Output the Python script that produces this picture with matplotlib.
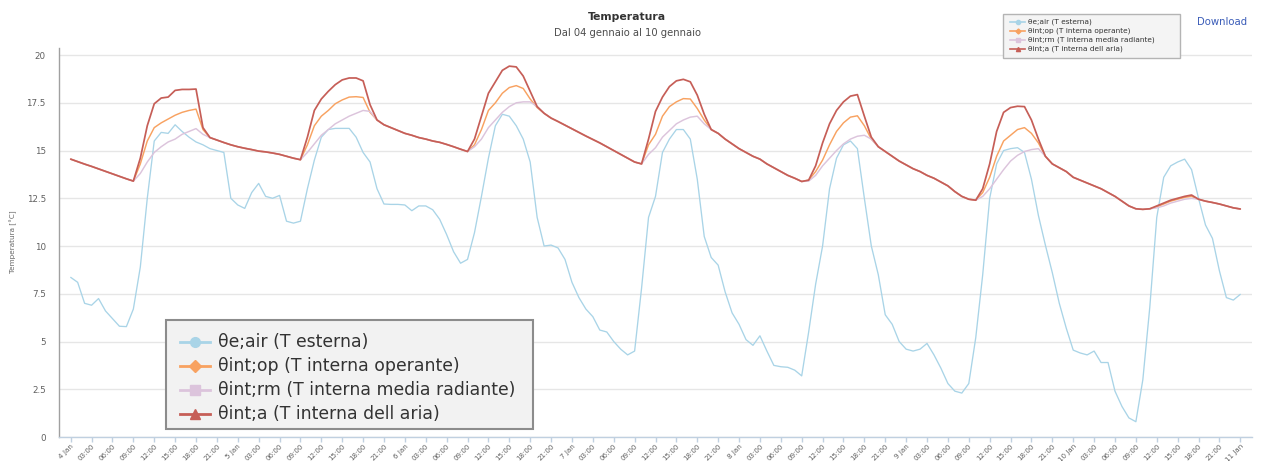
import numpy as np
import matplotlib
matplotlib.use('Agg')
import matplotlib.pyplot as plt
from matplotlib.lines import Line2D
from matplotlib.patches import Rectangle
import pandas as pd

# ---------------- data (hourly, 4 Jan 00:00 -> 11 Jan 00:00) ----------------
start = pd.Timestamp('2015-01-04 00:00')

theta_e_air = [
    8.36, 8.1, 7.0, 6.9, 7.25, 6.6, 6.2, 5.8, 5.78, 6.7,
    8.9, 12.5, 15.5, 15.95, 15.9, 16.35, 16.0, 15.7, 15.45, 15.3,
    15.1, 15.0, 14.9, 12.5, 12.15, 11.97, 12.8, 13.28, 12.6, 12.5,
    12.65, 11.3, 11.2, 11.3, 13.0, 14.5, 15.7, 16.1, 16.16, 16.16,
    16.16, 15.7, 14.9, 14.4, 13.0, 12.2, 12.18, 12.18, 12.15, 11.85,
    12.1, 12.1, 11.9, 11.4, 10.6, 9.7, 9.1, 9.3, 10.7, 12.6,
    14.6, 16.3, 16.9, 16.8, 16.3, 15.6, 14.4, 11.5, 10.0, 10.05,
    9.9, 9.3, 8.1, 7.3, 6.7, 6.3, 5.6, 5.5, 5.0, 4.6,
    4.3, 4.5, 7.8, 11.5, 12.6, 14.9, 15.6, 16.1, 16.1, 15.6,
    13.5, 10.5, 9.4, 9.0, 7.6, 6.5, 5.9, 5.1, 4.8, 5.3,
    4.5, 3.75, 3.68, 3.65, 3.5, 3.2, 5.5, 8.0, 10.0, 13.0,
    14.6, 15.3, 15.5, 15.1, 12.5, 10.0, 8.5, 6.4, 5.9, 5.0,
    4.6, 4.5, 4.6, 4.9, 4.3, 3.6, 2.8, 2.4, 2.3, 2.8,
    5.2, 8.5, 12.5, 14.3, 15.0, 15.1, 15.15, 14.9, 13.5, 11.6,
    10.05, 8.6, 7.0, 5.7, 4.55, 4.4, 4.3, 4.5, 3.9, 3.9,
    2.4, 1.6, 1.0, 0.8, 3.0, 6.8, 11.5, 13.6, 14.2, 14.4,
    14.55, 14.0, 12.5, 11.1, 10.4, 8.7, 7.3, 7.17, 7.47,
]

theta_int_op = [
    14.55, 14.42, 14.29, 14.17, 14.04, 13.91, 13.78, 13.65, 13.52, 13.4,
    14.3, 15.5, 16.2, 16.45, 16.65, 16.85, 17.0, 17.1, 17.17, 16.1,
    15.68, 15.55, 15.42, 15.3, 15.2, 15.12, 15.05, 14.97, 14.93, 14.87,
    14.8, 14.7, 14.6, 14.52, 15.3, 16.3, 16.8, 17.1, 17.45, 17.65,
    17.8, 17.82, 17.78, 17.0, 16.6, 16.35, 16.2, 16.05, 15.9, 15.8,
    15.68, 15.6, 15.5, 15.43, 15.32, 15.2, 15.07, 14.95, 15.3, 16.1,
    17.1, 17.5, 18.0, 18.3, 18.4, 18.25, 17.7, 17.25, 16.95, 16.7,
    16.52, 16.33, 16.14, 15.95, 15.76, 15.58, 15.4, 15.2, 15.0, 14.8,
    14.6, 14.4, 14.3, 15.3, 15.85, 16.8, 17.3, 17.55, 17.72, 17.7,
    17.2, 16.6, 16.1, 15.9, 15.6, 15.35, 15.1, 14.9, 14.7, 14.55,
    14.3, 14.1, 13.9, 13.7, 13.55, 13.38, 13.45, 13.9, 14.5, 15.3,
    16.0, 16.45, 16.75, 16.82, 16.3, 15.6, 15.2, 14.95, 14.7, 14.45,
    14.25, 14.05, 13.9, 13.7, 13.55, 13.35, 13.15, 12.85, 12.6, 12.45,
    12.4, 12.8, 13.6, 14.7, 15.5, 15.8, 16.1, 16.2, 15.9, 15.4,
    14.7, 14.3, 14.1, 13.9, 13.6, 13.45, 13.3, 13.15, 13.0, 12.8,
    12.6, 12.35, 12.1, 11.95, 11.92, 11.95, 12.05, 12.2, 12.35, 12.45,
    12.55, 12.6, 12.45, 12.35, 12.28, 12.2, 12.1, 12.0, 11.94,
]

theta_int_rm = [
    14.55, 14.42, 14.29, 14.17, 14.04, 13.91, 13.78, 13.65, 13.52, 13.4,
    13.8, 14.4, 14.9, 15.2, 15.45, 15.6, 15.85, 16.0, 16.15, 15.85,
    15.68, 15.55, 15.42, 15.3, 15.2, 15.12, 15.05, 14.97, 14.93, 14.87,
    14.8, 14.7, 14.6, 14.52, 14.9, 15.35, 15.8, 16.1, 16.4, 16.6,
    16.8, 16.95, 17.1, 17.05, 16.6, 16.35, 16.2, 16.05, 15.9, 15.8,
    15.68, 15.6, 15.5, 15.43, 15.32, 15.2, 15.07, 14.95, 15.2, 15.6,
    16.2, 16.6, 17.0, 17.3, 17.5, 17.55, 17.55, 17.3, 16.95, 16.7,
    16.52, 16.33, 16.14, 15.95, 15.76, 15.58, 15.4, 15.2, 15.0, 14.8,
    14.6, 14.4, 14.3, 14.8, 15.15, 15.7, 16.05, 16.4, 16.6, 16.75,
    16.8, 16.4, 16.1, 15.9, 15.6, 15.35, 15.1, 14.9, 14.7, 14.55,
    14.3, 14.1, 13.9, 13.7, 13.55, 13.38, 13.4, 13.7, 14.2, 14.6,
    15.0, 15.35, 15.6, 15.75, 15.8, 15.6, 15.2, 14.95, 14.7, 14.45,
    14.25, 14.05, 13.9, 13.7, 13.55, 13.35, 13.15, 12.85, 12.6, 12.45,
    12.4, 12.6, 13.0, 13.5, 14.0, 14.45, 14.75, 14.95, 15.05, 15.1,
    14.7, 14.3, 14.1, 13.9, 13.6, 13.45, 13.3, 13.15, 13.0, 12.8,
    12.6, 12.35, 12.1, 11.95, 11.92, 11.95, 12.0, 12.1, 12.25, 12.35,
    12.45, 12.5, 12.45, 12.35, 12.28, 12.2, 12.1, 12.0, 11.94,
]

theta_int_a = [
    14.55, 14.42, 14.29, 14.17, 14.04, 13.91, 13.78, 13.65, 13.52, 13.4,
    14.6, 16.3, 17.45, 17.75, 17.8, 18.15, 18.2, 18.2, 18.22, 16.2,
    15.68, 15.55, 15.42, 15.3, 15.2, 15.12, 15.05, 14.97, 14.93, 14.87,
    14.8, 14.7, 14.6, 14.52, 15.7, 17.1, 17.7, 18.1, 18.45, 18.7,
    18.8, 18.8, 18.65, 17.4, 16.6, 16.35, 16.2, 16.05, 15.9, 15.8,
    15.68, 15.6, 15.5, 15.43, 15.32, 15.2, 15.07, 14.95, 15.6, 16.8,
    18.0, 18.6, 19.2, 19.42, 19.38, 18.9, 18.1, 17.3, 16.95, 16.7,
    16.52, 16.33, 16.14, 15.95, 15.76, 15.58, 15.4, 15.2, 15.0, 14.8,
    14.6, 14.4, 14.3, 15.6, 17.05, 17.8, 18.35, 18.65, 18.73, 18.6,
    17.9, 16.9, 16.1, 15.9, 15.6, 15.35, 15.1, 14.9, 14.7, 14.55,
    14.3, 14.1, 13.9, 13.7, 13.55, 13.38, 13.45, 14.2, 15.4, 16.4,
    17.1, 17.55, 17.85, 17.93, 16.8, 15.7, 15.2, 14.95, 14.7, 14.45,
    14.25, 14.05, 13.9, 13.7, 13.55, 13.35, 13.15, 12.85, 12.6, 12.45,
    12.4, 13.0, 14.3, 16.0, 17.0, 17.25, 17.32, 17.3, 16.6, 15.6,
    14.7, 14.3, 14.1, 13.9, 13.6, 13.45, 13.3, 13.15, 13.0, 12.8,
    12.6, 12.35, 12.1, 11.95, 11.92, 11.95, 12.1, 12.25, 12.4, 12.5,
    12.6, 12.67, 12.45, 12.35, 12.28, 12.2, 12.1, 12.0, 11.94,
]

series_labels = [
    'θe;air (T esterna)',
    'θint;op (T interna operante)',
    'θint;rm (T interna media radiante)',
    'θint;a (T interna dell aria)',
]
series_colors = ['#a9d4e7', '#f8a261', '#dcc4dc', '#c65e57']
series_markers = ['o', 'D', 's', '^']

title = 'Temperatura'
subtitle = 'Dal 04 gennaio al 10 gennaio'
y_label = 'Temperatura [°C]'
y_ticks = [0, 2.5, 5, 7.5, 10, 12.5, 15, 17.5, 20]
y_tick_labels = ['0', '2.5', '5', '7.5', '10', '12.5', '15', '17.5', '20']

times = pd.date_range(start, periods=len(theta_e_air), freq='h')
hours = np.asarray((times - start) / pd.Timedelta(hours=1), dtype=float)
tick_times = pd.date_range(start, times[-1], freq='3h')
tick_hours = np.asarray((tick_times - start) / pd.Timedelta(hours=1), dtype=float)
tick_labels = [f"{t.day} Jan" if t.hour == 0 else t.strftime('%H:%M') for t in tick_times]

# ---------------- figure ----------------
W, H = 1266, 461
fig = plt.figure(figsize=(W / 100, H / 100), dpi=100)
fig.patch.set_facecolor('white')

def fx(px):
    return px / W

def fy(py):
    return 1 - py / H

ax = fig.add_axes([fx(59), fy(437), fx(1252) - fx(59), fy(48) - fy(437)])

all_series = [theta_e_air, theta_int_op, theta_int_rm, theta_int_a]
widths = [0.95, 1.05, 1.05, 1.25]
for vals, col, lw in zip(all_series, series_colors, widths):
    ax.plot(hours, vals, color=col, lw=lw, solid_joinstyle='round', solid_capstyle='round')

span = hours[-1] - hours[0]
ax.set_xlim(hours[0] - 0.01 * span, hours[-1] + 0.01 * span)
ax.set_ylim(0, 20.37)

ax.set_yticks(y_ticks)
ax.set_yticklabels(y_tick_labels)
ax.tick_params(axis='y', length=0, pad=9.5, labelsize=6.3, labelcolor='#606060')
ax.yaxis.grid(True, color='#e6e6e6', lw=1.0)
ax.set_axisbelow(True)

ax.set_xticks(tick_hours)
ax.set_xticklabels(tick_labels, rotation=45, ha='right', rotation_mode='anchor')
ax.tick_params(axis='x', length=3.5, width=1, color='#c0d0e0', pad=0.8,
               labelsize=5.1, labelcolor='#606060')

for s in ['top', 'right']:
    ax.spines[s].set_visible(False)
ax.spines['left'].set_color('#a0a0a0')
ax.spines['left'].set_linewidth(1.0)
ax.spines['bottom'].set_color('#c0d0e0')
ax.spines['bottom'].set_linewidth(1.0)

fig.text(fx(13), fy(242), y_label, rotation=90, fontsize=5.2, color='#666666',
         ha='center', va='center')
fig.text(fx(627), fy(17), title, fontsize=7.8, fontweight='bold', color='#333333',
         ha='center', va='center')
fig.text(fx(627), fy(33), subtitle, fontsize=7.2, color='#4d4d4d',
         ha='center', va='center')

# ---------------- legends (drawn manually) ----------------
def draw_legend(box, ys, hx0, hx1, tx, fs, lw, ms, ec, fc, blw):
    x0, y0, x1, y1 = box
    fig.patches.append(Rectangle((fx(x0), fy(y1)), fx(x1) - fx(x0), fy(y0) - fy(y1),
                                 transform=fig.transFigure, facecolor=fc,
                                 edgecolor=ec, lw=blw, zorder=5))
    for y, lab, col, mk in zip(ys, series_labels, series_colors, series_markers):
        fig.lines.append(Line2D([fx(hx0), fx(hx1)], [fy(y), fy(y)],
                                transform=fig.transFigure, color=col, lw=lw, zorder=6))
        msz = ms * (0.85 if mk == 'D' else 1.0)
        fig.lines.append(Line2D([fx((hx0 + hx1) / 2)], [fy(y)], transform=fig.transFigure,
                                marker=mk, markersize=msz, color=col, markeredgecolor=col,
                                lw=0, zorder=7))
        fig.text(fx(tx), fy(y), lab, fontsize=fs, color='#333333', ha='left',
                 va='center', zorder=8)

draw_legend((166, 320, 533, 429), [342, 365.5, 389.5, 413.5], 180, 210, 218,
            12.4, 2.0, 7.0, '#8c8c8c', '#f2f2f2', 1.5)
draw_legend((1003, 14, 1180, 58), [22, 31, 40, 49], 1010, 1025, 1028,
            5.3, 1.2, 3.0, '#b4b4b4', '#f4f4f4', 1.0)

fig.text(fx(1222), fy(22), 'Download', fontsize=7.3, color='#3a5cb8',
         ha='center', va='center')

fig.savefig('out.png', dpi=100)
